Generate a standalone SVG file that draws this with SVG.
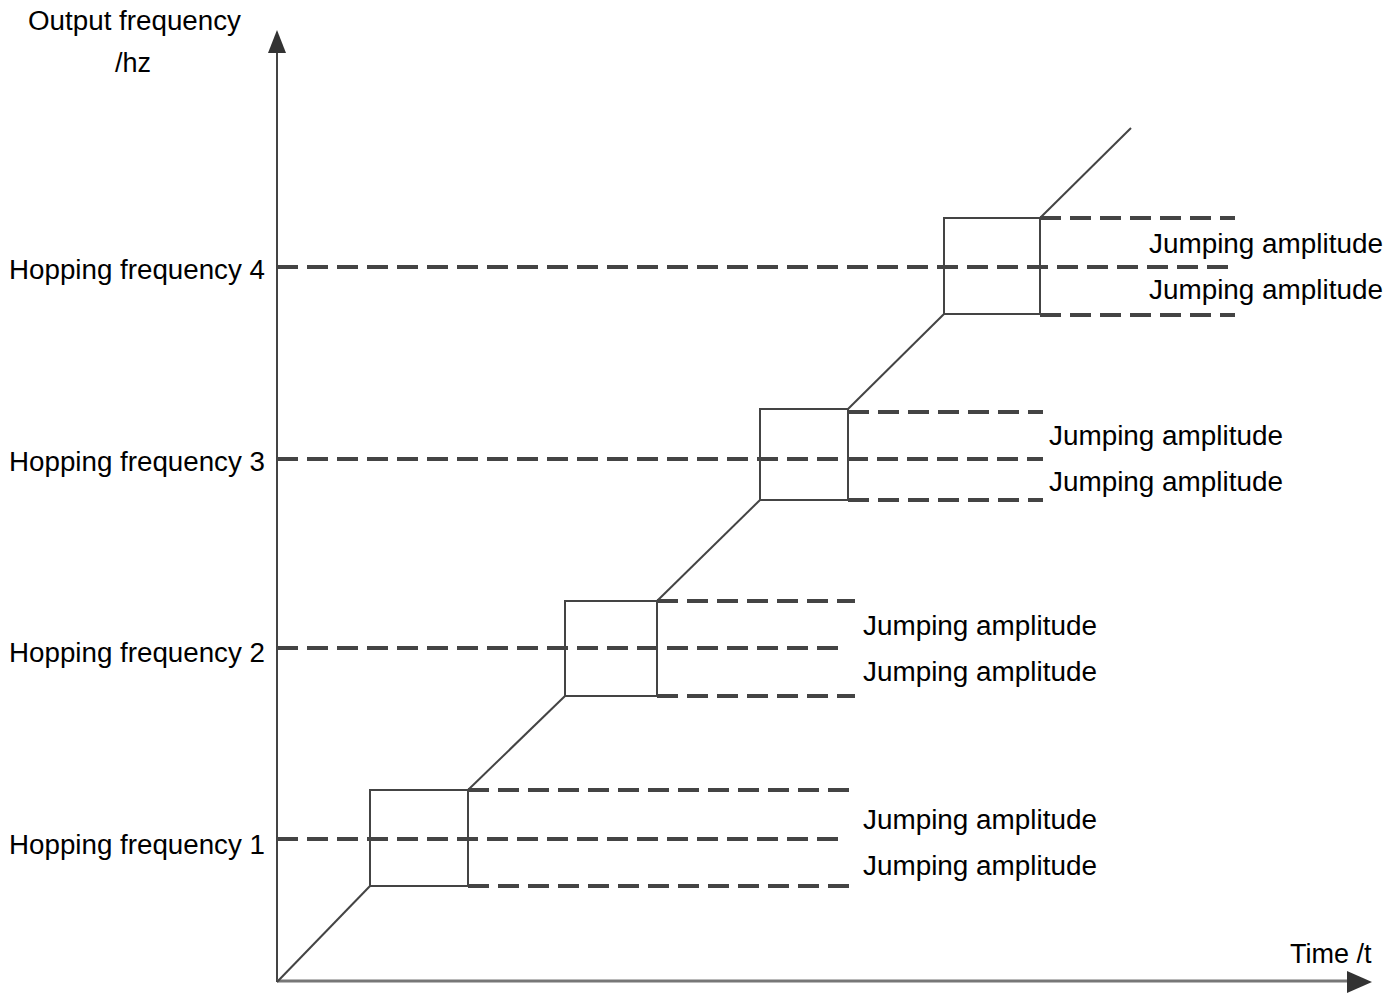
<svg xmlns="http://www.w3.org/2000/svg" width="1398" height="996" viewBox="0 0 1398 996">
<style>
text{font-family:"Liberation Sans",Arial,sans-serif;font-size:27px;fill:#000}
.ax{stroke:#444;stroke-width:2;fill:none}
.xax{stroke:#777;stroke-width:3;fill:none}
.sol{stroke:#444;stroke-width:2;fill:none}
.dash{stroke:#444;stroke-width:4;stroke-dasharray:21 9;fill:none}
.head{fill:#333}
</style>
<rect width="1398" height="996" fill="#fff"/>
<g id="axes">
<line class="ax" x1="277" y1="982" x2="277" y2="48"/>
<polygon class="head" points="277,30 268,53 286,53"/>
<line class="xax" x1="277" y1="981" x2="1350" y2="981"/>
<polygon class="head" points="1372,982 1347,971 1347,993"/>
</g>
<g id="labels">
<text x="28" y="30" textLength="213" lengthAdjust="spacingAndGlyphs">Output frequency</text>
<text x="115" y="72">/hz</text>
<text x="1290" y="963">Time /t</text>
</g>
<g id="freq-labels">
<text x="9" y="279" textLength="256" lengthAdjust="spacingAndGlyphs">Hopping frequency 4</text>
<text x="9" y="471" textLength="256" lengthAdjust="spacingAndGlyphs">Hopping frequency 3</text>
<text x="9" y="662" textLength="256" lengthAdjust="spacingAndGlyphs">Hopping frequency 2</text>
<text x="9" y="854" textLength="256" lengthAdjust="spacingAndGlyphs">Hopping frequency 1</text>
</g>
<g id="connectors">
<polyline class="sol" points="277,982 370,886"/>
<polyline class="sol" points="468,790 565,696"/>
<polyline class="sol" points="657,601 760,500"/>
<polyline class="sol" points="848,409 944,314"/>
<polyline class="sol" points="1040,218 1131,128"/>
</g>
<g id="hop1">
<line class="dash" x1="277" y1="839" x2="843" y2="839"/>
<line class="dash" x1="468" y1="790" x2="855" y2="790"/>
<line class="dash" x1="468" y1="886" x2="855" y2="886"/>
<rect class="sol" x="370" y="790" width="98" height="96"/>
<text x="863" y="829" textLength="234" lengthAdjust="spacingAndGlyphs">Jumping amplitude</text>
<text x="863" y="875" textLength="234" lengthAdjust="spacingAndGlyphs">Jumping amplitude</text>
</g>
<g id="hop2">
<line class="dash" x1="277" y1="648" x2="843" y2="648"/>
<line class="dash" x1="657" y1="601" x2="855" y2="601"/>
<line class="dash" x1="657" y1="696" x2="855" y2="696"/>
<rect class="sol" x="565" y="601" width="92" height="95"/>
<text x="863" y="635" textLength="234" lengthAdjust="spacingAndGlyphs">Jumping amplitude</text>
<text x="863" y="681" textLength="234" lengthAdjust="spacingAndGlyphs">Jumping amplitude</text>
</g>
<g id="hop3">
<line class="dash" x1="277" y1="459" x2="1043" y2="459"/>
<line class="dash" x1="848" y1="412" x2="1043" y2="412"/>
<line class="dash" x1="848" y1="500" x2="1043" y2="500"/>
<rect class="sol" x="760" y="409" width="88" height="91"/>
<text x="1049" y="445" textLength="234" lengthAdjust="spacingAndGlyphs">Jumping amplitude</text>
<text x="1049" y="491" textLength="234" lengthAdjust="spacingAndGlyphs">Jumping amplitude</text>
</g>
<g id="hop4">
<line class="dash" x1="277" y1="267" x2="1233" y2="267"/>
<line class="dash" x1="1040" y1="218" x2="1235" y2="218"/>
<line class="dash" x1="1040" y1="315" x2="1235" y2="315"/>
<rect class="sol" x="944" y="218" width="96" height="96"/>
<text x="1149" y="253" textLength="234" lengthAdjust="spacingAndGlyphs">Jumping amplitude</text>
<text x="1149" y="299" textLength="234" lengthAdjust="spacingAndGlyphs">Jumping amplitude</text>
</g>
</svg>
